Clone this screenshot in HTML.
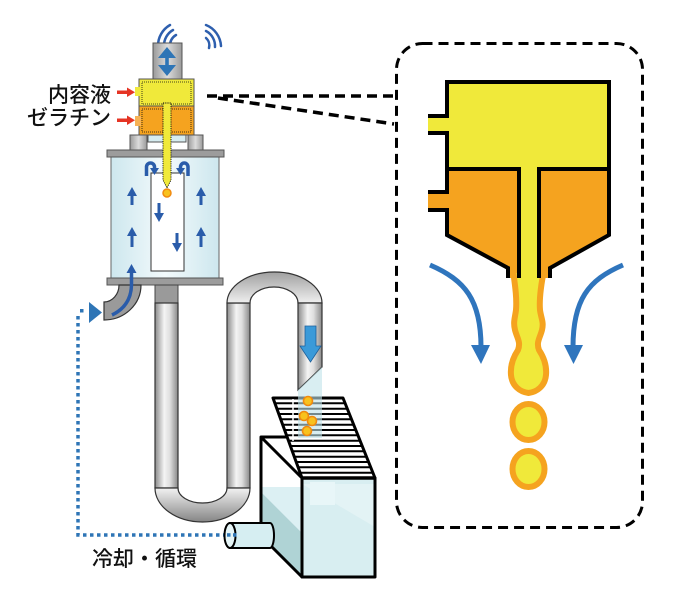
<!DOCTYPE html>
<html><head><meta charset="utf-8">
<style>
html,body{margin:0;padding:0;background:#fff;}
svg{display:block;}
text{font-family:"Liberation Sans","Noto Sans CJK JP",sans-serif;fill:#111;font-weight:500;}
</style></head>
<body>
<svg width="674" height="610" viewBox="0 0 674 610" xmlns="http://www.w3.org/2000/svg">
<defs>
 <linearGradient id="pipeV" x1="0" y1="0" x2="1" y2="0">
  <stop offset="0" stop-color="#8a8a8a"/><stop offset="0.4" stop-color="#f4f4f4"/><stop offset="0.65" stop-color="#dedede"/><stop offset="1" stop-color="#888"/>
 </linearGradient>
 <linearGradient id="arcTop" x1="0" y1="0" x2="0" y2="1">
  <stop offset="0" stop-color="#a0a0a0"/><stop offset="1" stop-color="#efefef"/>
 </linearGradient>
 <linearGradient id="arcBot" x1="0" y1="0" x2="0" y2="1">
  <stop offset="0" stop-color="#f2f2f2"/><stop offset="1" stop-color="#858585"/>
 </linearGradient>
 <linearGradient id="vessel" x1="0" y1="0" x2="1" y2="0">
  <stop offset="0" stop-color="#cde7ee"/><stop offset="0.5" stop-color="#f3fafc"/><stop offset="1" stop-color="#cde7ee"/>
 </linearGradient>
 <linearGradient id="grayBox" x1="0" y1="0" x2="1" y2="0">
  <stop offset="0" stop-color="#9a9a9a"/><stop offset="0.5" stop-color="#dcdcdc"/><stop offset="1" stop-color="#9a9a9a"/>
 </linearGradient>
</defs>

<!-- labels -->
<text x="111" y="102" font-size="21" text-anchor="end">内容液</text>
<text x="111" y="125" font-size="21" text-anchor="end">ゼラチン</text>
<text x="92" y="566" font-size="21">冷却・循環</text>

<!-- red arrows -->
<g fill="#e53424" stroke="none">
 <rect x="117" y="90.5" width="11" height="3.5"/><polygon points="127,87.5 127,97 135,92.2"/>
 <rect x="117" y="118.5" width="11" height="3.5"/><polygon points="127,115.5 127,125 135,120.2"/>
</g>

<!-- waves -->
<g fill="none" stroke="#2e5fae" stroke-width="2.5" stroke-linecap="round">
 <path d="M170,46 A12,12 0 0 1 176,35"/>
 <path d="M164,46 A18,18 0 0 1 173,30"/>
 <path d="M158,46 A24,24 0 0 1 170,25"/>
 <path d="M206,38 A10,10 0 0 1 209,48"/>
 <path d="M206,31 A17,17 0 0 1 215,47"/>
 <path d="M206,25 A24,24 0 0 1 221,46"/>
</g>

<!-- top gray box -->
<rect x="153" y="43" width="29" height="36" fill="url(#grayBox)" stroke="#555" stroke-width="1"/>
<g fill="#2e75b6">
 <rect x="165.2" y="54" width="3.6" height="14"/>
 <polygon points="158,58 176,58 167,47"/>
 <polygon points="158,65 176,65 167,76"/>
</g>

<!-- chamber -->
<rect x="139" y="79" width="55" height="27" fill="#f0e93a" stroke="#555" stroke-width="1"/>
<rect x="139" y="106" width="55" height="29" fill="#f5a31f" stroke="#555" stroke-width="1"/>
<rect x="135" y="87" width="5" height="9" fill="#f0e93a"/>
<rect x="135" y="116" width="6" height="10" fill="#f6b255"/>
<rect x="142" y="82" width="49" height="22" fill="none" stroke="#111" stroke-width="0.8" stroke-dasharray="1,1"/>
<rect x="142" y="109" width="49" height="23" fill="none" stroke="#111" stroke-width="0.8" stroke-dasharray="1,1"/>

<!-- gray blocks + neck -->
<rect x="130" y="135" width="17" height="15" fill="url(#grayBox)" stroke="#555" stroke-width="1"/>
<rect x="188" y="135" width="15" height="15" fill="url(#grayBox)" stroke="#555" stroke-width="1"/>
<rect x="148" y="135" width="38" height="7" fill="#d6ecf0" stroke="#555" stroke-width="1"/>

<!-- vessel -->
<rect x="111" y="157" width="108" height="121" fill="url(#vessel)" stroke="#666" stroke-width="1"/>
<rect x="151" y="173" width="33" height="98" fill="#fff" stroke="#333" stroke-width="1"/>
<rect x="107" y="150" width="117" height="7" fill="#9c9c9c" stroke="#555" stroke-width="1"/>
<rect x="107" y="278" width="116" height="7" fill="#9c9c9c" stroke="#555" stroke-width="1"/>

<!-- nozzle tube -->
<path d="M163,103 L171,103 L171,180 L167,188 L163,180 Z" fill="#f0e93a" stroke="#111" stroke-width="0.9" stroke-dasharray="1.2,1"/>
<circle cx="167" cy="193" r="4" fill="#f8c21e" stroke="#f08a10" stroke-width="1.5"/>

<!-- vessel arrows -->
<g fill="#2a5caa">
 <rect x="130.5" y="194" width="3" height="11"/><polygon points="127,196 137,196 132,187"/>
 <rect x="130.5" y="234" width="3" height="13"/><polygon points="127,236 137,236 132,227"/>
 <rect x="199.5" y="194" width="3" height="11"/><polygon points="196,196 206,196 201,187"/>
 <rect x="199.5" y="234" width="3" height="13"/><polygon points="196,236 206,236 201,227"/>
 <rect x="157.5" y="203" width="3" height="11"/><polygon points="154,213 164,213 159,222"/>
 <rect x="175.5" y="233" width="3" height="11"/><polygon points="172,243 182,243 177,252"/>
 <polygon points="150,168 159,168 154.5,175"/>
 <polygon points="176,168 185,168 180.5,175"/>
 <polygon points="126.5,273 136.5,273 131.5,264"/>
</g>
<g fill="none" stroke="#2a5caa" stroke-width="3.5">
 <path d="M146.5,176 L146.5,167 A4,4 0 0 1 154.5,167 L154.5,169"/>
 <path d="M188,176 L188,167 A3.75,4 0 0 0 180.5,167 L180.5,169"/>
</g>

<!-- elbow -->
<path d="M119,285 L141,285 A37,35 0 0 1 104,320 L104,302 A15,17 0 0 0 119,285 Z" fill="#9a9a9a" stroke="#333" stroke-width="1.2"/>
<path d="M112,315 Q131,306 131.5,285 L131.5,272" fill="none" stroke="#2a5caa" stroke-width="3.5"/>
<polygon points="89,302 89,323 102,312.5" fill="#2e75b6"/>

<!-- dotted cooling line -->
<path d="M78,316 L78,535 L236,535" fill="none" stroke="#2e75b6" stroke-width="3.5" stroke-dasharray="3.5,3.5"/>
<rect x="80" y="309" width="3.5" height="3.5" fill="#2e75b6"/>

<!-- pipes -->
<rect x="155" y="285" width="23" height="18" fill="#9a9a9a" stroke="#444" stroke-width="1"/>
<rect x="155" y="303" width="23" height="185" fill="url(#pipeV)" stroke="#333" stroke-width="1.2"/>
<rect x="227" y="303" width="23" height="185" fill="url(#pipeV)" stroke="#333" stroke-width="1.2"/>
<path d="M155,488 A47.5,34 0 0 0 250,488 L227,488 A24.5,15 0 0 1 178,488 Z" fill="url(#arcBot)" stroke="#333" stroke-width="1.2"/>
<path d="M227,303 A47.5,31 0 0 1 322,303 L298,303 A24,16 0 0 0 250,303 Z" fill="url(#arcTop)" stroke="#333" stroke-width="1.2"/>
<polygon points="298,303 322,303 322,367 298,390" fill="url(#pipeV)" stroke="#333" stroke-width="1.2"/>
<polygon points="305,326 316,326 316,346 321,346 310.5,362 300,346 305,346" fill="#3a9ad9" stroke="#1f5f99" stroke-width="0.8"/>

<!-- box -->
<polygon points="261,437 302,478 302,577 261,536" fill="#fff"/>
<polygon points="261,487 302,487 302,533 261,492" fill="#dcf0f3"/>
<polygon points="261,492 302,533 302,577 261,536" fill="#afd3d5"/>
<rect x="302" y="478" width="73" height="99" fill="#d8eef1"/>
<polygon points="302,484 375,484 375,527" fill="#e3f3f5"/>
<rect x="310" y="482" width="25" height="23" fill="#e8f6f8"/>
<g fill="none" stroke="#000" stroke-width="3" stroke-linejoin="round">
 <polygon points="261,437 302,478 302,577 261,536"/>
 <rect x="302" y="478" width="73" height="99"/>
 <line x1="261" y1="437" x2="288" y2="437"/>
</g>

<!-- outlet cylinder -->
<path d="M230,523 L270,523 A4,12.5 0 0 1 270,548 L230,548 Z" fill="#d6eef2" stroke="#000" stroke-width="2"/>
<ellipse cx="230" cy="535.5" rx="5.5" ry="12.5" fill="#e6f5f7" stroke="#000" stroke-width="2"/>
<rect x="227" y="533.2" width="3.5" height="3.5" fill="#2e75b6"/>
<rect x="233" y="533.2" width="3.5" height="3.5" fill="#2e75b6"/>

<!-- tray -->
<polygon points="273,398 343,398 375,478 302,478" fill="#fff" stroke="#000" stroke-width="3" stroke-linejoin="round"/>
<g stroke="#000" stroke-width="2">
 <line x1="275.0" y1="403.3" x2="345.1" y2="403.3"/>
 <line x1="276.9" y1="408.7" x2="347.3" y2="408.7"/>
 <line x1="278.8" y1="414.0" x2="349.4" y2="414.0"/>
 <line x1="280.7" y1="419.3" x2="351.5" y2="419.3"/>
 <line x1="282.7" y1="424.7" x2="353.7" y2="424.7"/>
 <line x1="284.6" y1="430.0" x2="355.8" y2="430.0"/>
 <line x1="286.5" y1="435.3" x2="357.9" y2="435.3"/>
 <line x1="288.5" y1="440.7" x2="360.1" y2="440.7"/>
 <line x1="290.4" y1="446.0" x2="362.2" y2="446.0"/>
 <line x1="292.3" y1="451.3" x2="364.3" y2="451.3"/>
 <line x1="294.2" y1="456.7" x2="366.5" y2="456.7"/>
 <line x1="296.2" y1="462.0" x2="368.6" y2="462.0"/>
 <line x1="298.1" y1="467.3" x2="370.7" y2="467.3"/>
 <line x1="300.0" y1="472.7" x2="372.9" y2="472.7"/>
</g>
<line x1="293" y1="399" x2="293" y2="441" stroke="#fff" stroke-width="1.5"/>
<line x1="302" y1="478" x2="375" y2="478" stroke="#000" stroke-width="3.5"/>

<!-- stream -->
<polygon points="298,390 322,367 322,438 298,438" fill="#bfe2ea" opacity="0.6"/>
<g fill="#f8c21e" stroke="#f08a10" stroke-width="1.6">
 <circle cx="308" cy="401" r="4.5"/>
 <circle cx="304" cy="416" r="4.5"/>
 <circle cx="312" cy="421" r="4.5"/>
 <circle cx="307" cy="431" r="4.5"/>
</g>

<!-- dashed connectors & detail box -->
<g fill="none" stroke="#000" stroke-width="3.5" stroke-dasharray="10,6">
 <line x1="207" y1="96" x2="394" y2="96"/>
 <line x1="218" y1="98" x2="394" y2="124"/>
</g>
<rect x="396.5" y="43.5" width="246" height="484" rx="26" fill="none" stroke="#000" stroke-width="3" stroke-dasharray="10,6"/>

<!-- detail chamber -->
<rect x="447" y="82" width="162" height="87" fill="#f0e93a"/>
<polygon points="447,169 609,169 609,235 550,268 550,278 508,278 508,268 447,235" fill="#f5a31f"/>
<rect x="428" y="116" width="20" height="17" fill="#f0e93a"/>
<rect x="428" y="192" width="20" height="18" fill="#f5a31f"/>

<!-- stream detail -->
<path d="M513,270 C515,285 517,298 516,310 C515,318 513,322 515,330 C517,338 521,342 518,350 C514,356 510,364 511,375 C512,386 520,392 528.5,393 C537,392 545,386 546,375 C547,364 543,356 539,350 C536,342 540,338 542,330 C544,322 541,318 540,310 C539,298 541,285 544,270 Z" fill="#f0e93a" stroke="#f5a31f" stroke-width="6" stroke-linejoin="round"/>
<rect x="521" y="169" width="16" height="110" fill="#f0e93a"/>
<ellipse cx="528.5" cy="422" rx="16" ry="18" fill="#f0e93a" stroke="#f5a31f" stroke-width="6"/>
<ellipse cx="528.5" cy="469" rx="16" ry="18" fill="#f0e93a" stroke="#f5a31f" stroke-width="6"/>

<g fill="none" stroke="#000" stroke-width="4" stroke-linejoin="miter">
 <path d="M428,116 L447,116 L447,82 L609,82 L609,235 L550,268 L550,278"/>
 <path d="M428,133 L447,133 L447,192 L428,192"/>
 <path d="M428,210 L447,210 L447,235 L508,268 L508,278"/>
 <path d="M447,169 L519,169 L519,278"/>
 <path d="M539,278 L539,169 L609,169"/>
</g>

<!-- detail blue arrows -->
<g fill="none" stroke="#2f75bd" stroke-width="5">
 <path d="M430,265 C465,280 481,300 481,347"/>
 <path d="M623,265 C588,280 573,300 573,347"/>
</g>
<g fill="#2f75bd">
 <polygon points="471,345 490,345 481,364"/>
 <polygon points="564,345 583,345 573.5,364"/>
</g>
</svg>
</body></html>
